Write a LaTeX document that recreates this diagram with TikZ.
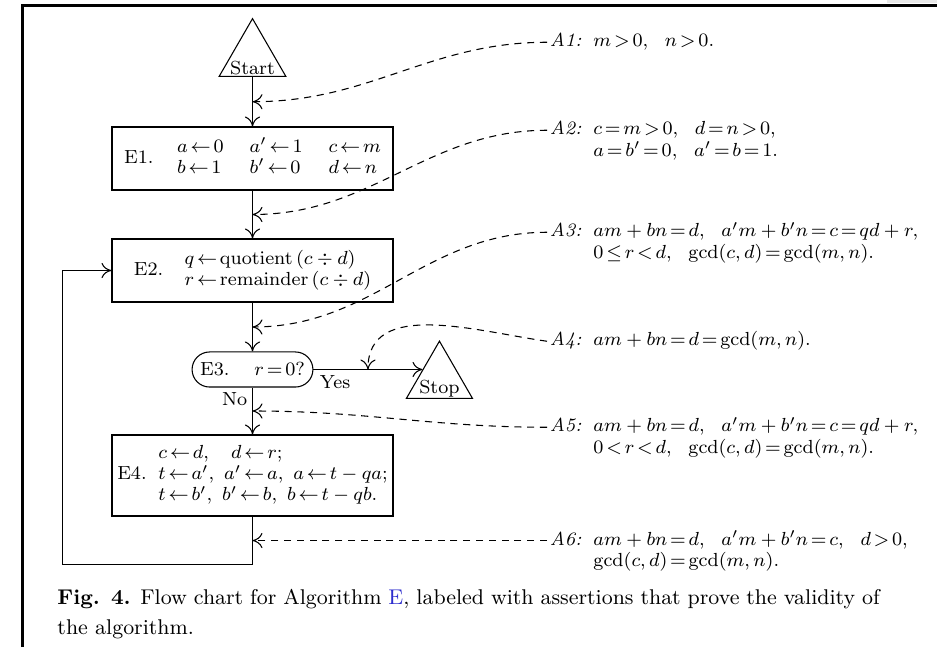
\documentclass[tikz,border=0pt]{standalone}
\usepackage{amsmath}
\usepackage{amssymb}
\usepackage{tikz}
\usepackage{xcolor}
\usetikzlibrary{arrows.meta,calc,shapes.geometric,shapes.misc}
\definecolor{linkblue}{RGB}{45,45,205}
\definecolor{shotgray}{RGB}{232,232,232}

% tighter relations, as in the figure
\thickmuskip=2.5mu plus 1mu

\tikzset{
    flow/.style={-{Computer Modern Rightarrow[length=4.2pt,width=6.4pt]}, line width=0.45pt},
    assert/.style={flow, dash pattern=on 3pt off 2.4pt},
    stepbox/.style={draw, line width=0.45pt, minimum width=118.6pt, inner sep=0pt},
    tribox/.style={draw, line width=0.45pt, isosceles triangle, isosceles triangle apex angle=60,
        shape border rotate=90, inner sep=0.6pt},
    assertion/.style={anchor=base west, inner sep=1pt},
}

\begin{document}
\begin{tikzpicture}[x=0.422pt, y=0.422pt, font=\fontsize{8}{8.9}\selectfont]
    \useasboundingbox (0,0) rectangle (937,647);
    % page frame
    \fill[shotgray] (887,644) rectangle (937,647);
    \draw[line width=1.5pt] (22.3,0) -- (22.3,641.3) -- (937,641.3);

    % Steps of the algorithm
    \node[tribox, anchor=lower side] (start) at (252.5,570) {Start};
    \node[stepbox, minimum height=26.6pt] (e1) at (252.5,488.5)
        {E1.\hspace{10pt}$\begin{array}{@{}l@{\hspace{11pt}}l@{\hspace{11pt}}l@{}}
            a\gets 0 & a'\gets 1 & c\gets m\\
            b\gets 1 & b'\gets 0 & d\gets n
        \end{array}$};
    \node[stepbox, minimum height=26.6pt] (e2) at (252.5,376.5)
        {E2.\hspace{9pt}\begin{tabular}{@{}l@{}}
            $q\gets\mathrm{quotient}\,(c\div d)$\\
            $r\gets\mathrm{remainder}\,(c\div d)$
        \end{tabular}};
    \node[draw, line width=0.45pt, rounded rectangle, minimum width=51pt, minimum height=14.8pt,
        inner sep=0pt] (e3) at (252.5,277.5) {E3.\hspace{10.5pt}$r=0?$};
    \node[tribox, anchor=left side] (stop) at ($(e3.east)+(109,0)$) {Stop};
    \node[stepbox, minimum height=34.2pt] (e4) at (252.5,171.5)
        {\begin{tabular}{@{}l@{\hspace{5pt}}l@{}}
            & $c\gets d,\quad d\gets r;$\\
            E4. & $t\gets a',\ a'\gets a,\ a\gets t-qa;$\\
            & $t\gets b',\ b'\gets b,\ b\gets t-qb.$
        \end{tabular}};

    % Flow
    \draw[flow] (start.lower side) -- (e1.north);
    \draw[flow] (e1.south) -- (e2.north);
    \draw[flow] (e2.south) -- (e3.north);
    \draw[flow] (e3.east) -- node[pos=0, below right, inner sep=2.5pt] (yes) {Yes} (stop.left side);
    \draw[flow] (e3.south) -- node[pos=0, below left, inner sep=2pt] (no) {No} (e4.north);
    \draw[flow] (e4.south) -- ++(0,-48) coordinate (back) -| ($(e2.west)+(-49,0)$) -- (e2.west);

    % where the assertions hold
    \coordinate (p1) at ($(start.lower side)!.5!(e1.north)$);
    \coordinate (p2) at ($(e1.south)!.5!(e2.north)$);
    \coordinate (p3) at ($(e2.south)!.5!(e3.north)$);
    \coordinate (p4) at ($(e3.east)!.5!(stop.left side)$);
    \coordinate (p5) at ($(e3.south)!.5!(e4.north)$);
    \coordinate (p6) at ($(e4.south)!.5!(back)$);

    % Assertions
    \node[assertion] (a1) at (547,600)
        {\begin{tabular}[t]{@{}l@{\hspace{5pt}}l@{}}
            \textit{A1:} & $m>0,\ \ n>0.$
        \end{tabular}};
    \node[assertion] (a2) at (547,512)
        {\begin{tabular}[t]{@{}l@{\hspace{5pt}}l@{}}
            \textit{A2:} & $c=m>0,\ \ d=n>0,$\\
            & $a=b'=0,\ \ a'=b=1.$
        \end{tabular}};
    \node[assertion] (a3) at (547,410)
        {\begin{tabular}[t]{@{}l@{\hspace{5pt}}l@{}}
            \textit{A3:} & $am+bn=d,\ \ a'm+b'n=c=qd+r,$\\
            & $0\le r<d,\ \ \gcd(c,d)=\gcd(m,n).$
        \end{tabular}};
    \node[assertion] (a4) at (547,301)
        {\begin{tabular}[t]{@{}l@{\hspace{5pt}}l@{}}
            \textit{A4:} & $am+bn=d=\gcd(m,n).$
        \end{tabular}};
    \node[assertion] (a5) at (547,215)
        {\begin{tabular}[t]{@{}l@{\hspace{5pt}}l@{}}
            \textit{A5:} & $am+bn=d,\ \ a'm+b'n=c=qd+r,$\\
            & $0<r<d,\ \ \gcd(c,d)=\gcd(m,n).$
        \end{tabular}};
    \node[assertion, yshift=-2pt] (a6) at ($(p6)+(294.5,0)$)
        {\begin{tabular}[t]{@{}l@{\hspace{5pt}}l@{}}
            \textit{A6:} & $am+bn=d,\ \ a'm+b'n=c,\ \ d>0,$\\
            & $\gcd(c,d)=\gcd(m,n).$
        \end{tabular}};

    \draw[assert] ([yshift=2pt]a1.base west) to[out=180,in=0] (p1);
    \draw[assert] ([yshift=2pt]a2.base west) to[out=180,in=0] (p2);
    \draw[assert] ([yshift=2pt]a3.base west) to[out=180,in=0] (p3);
    \draw[assert] ([yshift=2pt]a4.base west) to[out=172,in=90] (p4);
    \draw[assert] ([yshift=2pt]a5.base west) to[out=180,in=0] (p5);
    \draw[assert] ([yshift=2pt]a6.base west) -- (p6);

    % Caption
    \node[anchor=north west, inner sep=0pt, text width=347pt, align=justify,
        font=\fontsize{9}{12.5}\selectfont] (caption) at (57,58)
        {\textbf{Fig. 4.} Flow chart for Algorithm \textcolor{linkblue}{E}, labeled with
        assertions that prove the validity of\linebreak the algorithm.};
\end{tikzpicture}
\end{document}
